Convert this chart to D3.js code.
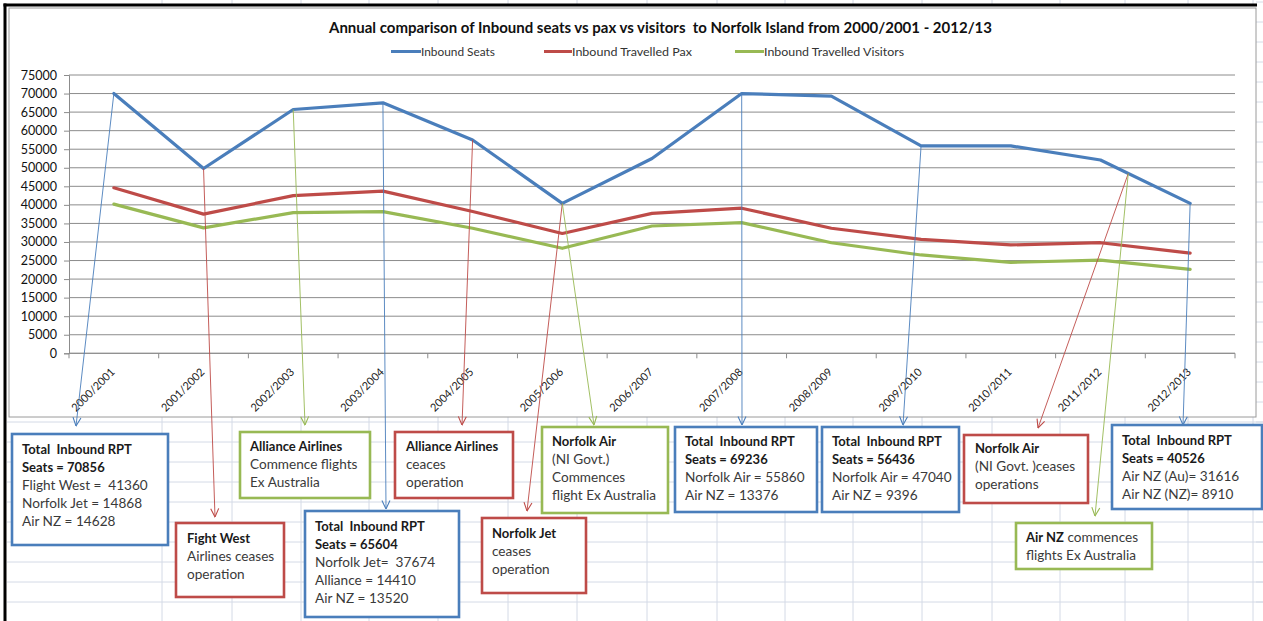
<!DOCTYPE html>
<html>
<head>
<meta charset="utf-8">
<script src="https://cdn.jsdelivr.net/npm/d3@7"></script>
<style>
  html, body { margin: 0; padding: 0; background: #fff; }
  svg { display: block; font-family: Lato, "Open Sans", "DejaVu Sans", sans-serif; }
</style>
</head>
<body>
<svg id="chart" width="1263" height="621"></svg>
<script>
// ---------------- DATA ----------------
const categories = ["2000/2001","2001/2002","2002/2003","2003/2004","2004/2005","2005/2006","2006/2007","2007/2008","2008/2009","2009/2010","2010/2011","2011/2012","2012/2013"];
const inboundSeats     = [70000, 49800, 65700, 67500, 57500, 40400, 52500, 70000, 69300, 55900, 55900, 52100, 40400];
const inboundPax       = [44600, 37500, 42500, 43700, 38200, 32300, 37700, 39100, 33700, 30700, 29200, 29800, 27000];
const inboundVisitors  = [40200, 33800, 37900, 38200, 33700, 28300, 34300, 35200, 29800, 26500, 24500, 25100, 22600];
const yTickValues = [0,5000,10000,15000,20000,25000,30000,35000,40000,45000,50000,55000,60000,65000,70000,75000];
const seriesNames = ["Inbound Seats","Inbound Travelled Pax","Inbound Travelled Visitors"];
const chartTitle = "Annual comparison of Inbound seats vs pax vs visitors  to Norfolk Island from 2000/2001 - 2012/13";

// annotation texts ([text, bold] segments per line)
const noteTexts = [
  [[["Total  Inbound RPT",1]],[["Seats = 70856",1]],[["Flight West =  41360",0]],[["Norfolk Jet = 14868",0]],[["Air NZ = 14628",0]]],
  [[["Fight West",1]],[["Airlines ceases",0]],[["operation",0]]],
  [[["Alliance Airlines",1]],[["Commence flights",0]],[["Ex Australia",0]]],
  [[["Total  Inbound RPT",1]],[["Seats = 65604",1]],[["Norfolk Jet=  37674",0]],[["Alliance = 14410",0]],[["Air NZ = 13520",0]]],
  [[["Alliance Airlines",1]],[["ceaces",0]],[["operation",0]]],
  [[["Norfolk Jet",1]],[["ceases",0]],[["operation",0]]],
  [[["Norfolk Air",1]],[["(NI Govt.)",0]],[["Commences",0]],[["flight Ex Australia",0]]],
  [[["Total  Inbound RPT",1]],[["Seats = 69236",1]],[["Norfolk Air = 55860",0]],[["Air NZ = 13376",0]]],
  [[["Total  Inbound RPT",1]],[["Seats = 56436",1]],[["Norfolk Air = 47040",0]],[["Air NZ = 9396",0]]],
  [[["Norfolk Air",1]],[["(NI Govt. )ceases",0]],[["operations",0]]],
  [[["Air NZ",1],[" commences",0]],[["flights Ex Australia",0]]],
  [[["Total  Inbound RPT",1]],[["Seats = 40526",1]],[["Air NZ (Au)= 31616",0]],[["Air NZ (NZ)= 8910",0]]]
];
// category index on the seats line each annotation points from
const noteFrom = [0, 1, 2, 3, 4, 5, 5, 7, 9, 11.31, 11.31, 12];

// ---------------- LAYOUT / STYLE ----------------
const W = 1263, H = 621;
const plot = {left: 69, right: 1235, top: 75, bottom: 353.3};
const colors = {blue: "#4A7EBB", red: "#BE4B48", green: "#98B954"};
const seriesColors = [colors.blue, colors.red, colors.green];
const noteBoxes = [
  {x:12,   y:434, w:156, h:111, c:"blue",  tx:10, ty:20},
  {x:176,  y:523, w:108, h:74,  c:"red",   tx:11, ty:20},
  {x:240,  y:432, w:130, h:66,  c:"green", tx:10, ty:19},
  {x:305,  y:511, w:154, h:106, c:"blue",  tx:10, ty:20},
  {x:395,  y:432, w:118, h:66,  c:"red",   tx:11, ty:19},
  {x:482,  y:518, w:104, h:75,  c:"red",   tx:10, ty:20},
  {x:542,  y:427, w:126, h:86,  c:"green", tx:10, ty:19},
  {x:675,  y:427, w:142, h:85,  c:"blue",  tx:10, ty:19},
  {x:822,  y:427, w:137, h:85,  c:"blue",  tx:10, ty:19},
  {x:964,  y:435, w:124, h:68,  c:"red",   tx:11, ty:18},
  {x:1016, y:523, w:136, h:46,  c:"green", tx:10, ty:19},
  {x:1112, y:425, w:150, h:84,  c:"blue",  tx:10, ty:20}
];
const noteTips = [[76,426],[215,517],[305,425],[386,509],[462,425],[527,511],[594,425],[742,425],[903,425],[1038,428],[1095,516],[1183,425]];
const arrowColor = ["blue","red","green","blue","red","red","green","blue","blue","red","green","blue"];

const svg = d3.select("#chart");
const gridColor = "#D4DAE6";

// ---- spreadsheet background grid ----
const sheet = svg.append("g");
const colXs = [162,232,301,369,438,508,577,647,717,785,853,922,992,1060,1125,1188,1253];
colXs.forEach(cx => {
  sheet.append("line").attr("x1",cx).attr("x2",cx).attr("y1",417).attr("y2",H).attr("stroke",gridColor);
  sheet.append("line").attr("x1",cx).attr("x2",cx).attr("y1",0).attr("y2",5).attr("stroke",gridColor);
});
for (let ry = 2; ry < H; ry += 20) {
  if (ry > 417) sheet.append("line").attr("x1",7).attr("x2",W).attr("y1",ry).attr("y2",ry).attr("stroke",gridColor);
  sheet.append("line").attr("x1",1256).attr("x2",W).attr("y1",ry).attr("y2",ry).attr("stroke",gridColor);
}

// ---- chart area ----
svg.append("rect").attr("x",9).attr("y",8).attr("width",1247).attr("height",409)
  .attr("fill","#fff").attr("stroke","#9a9a9a").attr("stroke-width",1);
// black frame lines
svg.append("line").attr("x1",5).attr("x2",5).attr("y1",3.5).attr("y2",H).attr("stroke","#000").attr("stroke-width",3);
svg.append("line").attr("x1",3.5).attr("x2",1257).attr("y1",5).attr("y2",5).attr("stroke","#000").attr("stroke-width",3);

// ---- scales ----
const x = d3.scaleBand().domain(categories).range([plot.left, plot.right]);
const y = d3.scaleLinear().domain([0, 75000]).range([plot.bottom, plot.top]);
const cx = i => x(categories[i]) + x.bandwidth()/2;

// gridlines
svg.append("g").selectAll("line").data(yTickValues).join("line")
  .attr("x1", plot.left).attr("x2", plot.right)
  .attr("y1", d => y(d)).attr("y2", d => y(d))
  .attr("stroke", "#8c8c8c").attr("stroke-width", 1);

// y axis
const yAxis = svg.append("g").attr("transform", `translate(${plot.left},0)`)
  .call(d3.axisLeft(y).tickValues(yTickValues).tickFormat(d3.format("d")).tickSize(5).tickPadding(7));
yAxis.select(".domain").attr("stroke", "#8c8c8c");
yAxis.selectAll(".tick line").attr("stroke", "#8c8c8c");
yAxis.selectAll(".tick text").attr("font-size", 12.5).attr("fill", "#111").attr("font-family", "Lato, sans-serif");

// x axis line + boundary ticks
svg.append("line").attr("x1", plot.left).attr("x2", plot.right).attr("y1", plot.bottom).attr("y2", plot.bottom).attr("stroke", "#8c8c8c");
const bounds = categories.map(c => x(c)).concat([plot.right]);
svg.append("g").selectAll("line").data(bounds).join("line")
  .attr("x1", d => d).attr("x2", d => d).attr("y1", plot.bottom).attr("y2", plot.bottom + 5).attr("stroke", "#8c8c8c");
// x labels
svg.append("g").selectAll("text").data(categories).join("text")
  .attr("transform", (d,i) => `translate(${cx(i) - 1},370) rotate(-45)`)
  .attr("text-anchor", "end").attr("dy", "0.35em")
  .attr("font-size", 11).attr("fill", "#222").text(d => d);

// series lines
const lineGen = d3.line().x((d,i) => cx(i)).y(d => y(d));
[inboundSeats, inboundPax, inboundVisitors].forEach((s, k) => {
  svg.append("path").datum(s).attr("d", lineGen).attr("fill", "none")
    .attr("stroke", seriesColors[k]).attr("stroke-width", 3.2)
    .attr("stroke-linejoin", "round").attr("stroke-linecap", "round");
});

// title
svg.append("text").attr("x", 660.5).attr("y", 33).attr("text-anchor", "middle")
  .attr("font-size", 14.5).attr("font-weight", "bold").attr("fill", "#111")
  .attr("textLength", 663).attr("lengthAdjust", "spacingAndGlyphs")
  .style("white-space", "pre").text(chartTitle);

// legend
const legendPos = [{lx:391, tx:421, tw:74}, {lx:544, tx:572, tw:120}, {lx:735, tx:764, tw:140}];
seriesNames.forEach((n, k) => {
  const p = legendPos[k];
  svg.append("line").attr("x1", p.lx).attr("x2", p.tx).attr("y1", 51.5).attr("y2", 51.5)
    .attr("stroke", seriesColors[k]).attr("stroke-width", 3);
  svg.append("text").attr("x", p.tx).attr("y", 55.5).attr("font-size", 12).attr("fill", "#333")
    .attr("textLength", p.tw).attr("lengthAdjust", "spacingAndGlyphs").text(n);
});

// arrow markers
const defs = svg.append("defs");
Object.entries(colors).forEach(([k, c]) => {
  defs.append("marker").attr("id", "arr-" + k).attr("viewBox", "0 0 10 10")
    .attr("refX", 9.5).attr("refY", 5).attr("markerWidth", 10).attr("markerHeight", 10)
    .attr("markerUnits", "userSpaceOnUse").attr("orient", "auto")
    .append("path").attr("d", "M1,1 L9.5,5 L1,9").attr("fill", "none")
    .attr("stroke", c).attr("stroke-width", 1.1);
});

// annotation arrows (from seats line)
const seatsAt = f => {
  const i = Math.floor(f), t = f - i;
  if (t === 0) return [cx(i), y(inboundSeats[i])];
  return [cx(i) + (cx(i+1) - cx(i)) * t, y(inboundSeats[i] + (inboundSeats[i+1] - inboundSeats[i]) * t)];
};
noteFrom.forEach((f, k) => {
  const [sx, sy] = seatsAt(f);
  const [ex, ey] = noteTips[k];
  svg.append("line").attr("x1", sx).attr("y1", sy).attr("x2", ex).attr("y2", ey)
    .attr("stroke", colors[arrowColor[k]]).attr("stroke-width", 1).attr("stroke-opacity", 0.9)
    .attr("marker-end", `url(#arr-${arrowColor[k]})`);
});

// annotation boxes
noteBoxes.forEach((b, k) => {
  const g = svg.append("g");
  g.append("rect").attr("x", b.x).attr("y", b.y).attr("width", b.w).attr("height", b.h)
    .attr("fill", "#fff").attr("stroke", colors[b.c]).attr("stroke-width", 2.6);
  noteTexts[k].forEach((line, li) => {
    const t = g.append("text").attr("x", b.x + b.tx).attr("y", b.y + b.ty + li * 18)
      .style("white-space", "pre");
    line.forEach(([s, bold]) => {
      t.append("tspan").attr("font-weight", bold ? "bold" : "normal")
        .attr("font-size", bold ? 13 : 13.6)
        .attr("fill", bold ? "#1a1a1a" : "#3a3a3a").text(s);
    });
  });
});
</script>
</body>
</html>
